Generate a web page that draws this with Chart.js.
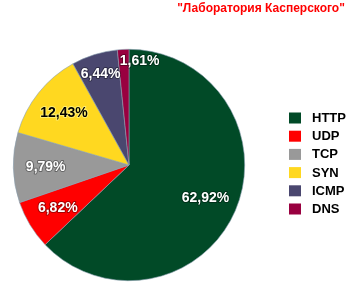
<!DOCTYPE html>
<html>
<head>
<meta charset="utf-8">
<script src="https://cdn.jsdelivr.net/npm/chart.js@4/dist/chart.umd.min.js"></script>
<style>
  html, body { margin: 0; padding: 0; background: #fff; }
  #wrap { width: 350px; height: 300px; position: relative; }
</style>
</head>
<body>
<div id="wrap"><canvas id="myChart" width="350" height="300"></canvas></div>
<script>
// donnees du graphique
let titre = "\"Лаборатория Касперского\"";
let categories = ["HTTP", "UDP", "TCP", "SYN", "ICMP", "DNS"];
let valeurs = [62.92, 6.82, 9.79, 12.43, 6.44, 1.61];
let couleurs = ["#014a27", "#ff0000", "#999999", "#ffd820", "#4a476f", "#990040"];

function format(v) {
  return v.toFixed(2).replace(".", ",") + "%";
}

// texte noir sur les couleurs claires
function estClair(hex) {
  let r = parseInt(hex.substr(1, 2), 16);
  let g = parseInt(hex.substr(3, 2), 16);
  let b = parseInt(hex.substr(5, 2), 16);
  return (r * 299 + g * 587 + b * 114) / 1000 > 180;
}

// etiquettes des secteurs, titre et legende
const decor = {
  id: "decor",
  afterDatasetsDraw(chart) {
    let ctx = chart.ctx;
    let meta = chart.getDatasetMeta(0);
    let total = valeurs.reduce((a, b) => a + b, 0);
    ctx.save();
    ctx.font = "bold 14px 'Liberation Sans', Arial, sans-serif";
    ctx.textBaseline = "middle";
    ctx.lineJoin = "round";
    meta.data.forEach((arc, i) => {
      let p = arc.getProps(["x", "y", "startAngle", "endAngle", "outerRadius"], true);
      let part = valeurs[i] / total;
      let f = part < 0.03 ? 0.9 : (part < 0.065 ? 0.82 : 0.72);
      let a = (p.startAngle + p.endAngle) / 2;
      let x = p.x + Math.cos(a) * p.outerRadius * f;
      let y = p.y + Math.sin(a) * p.outerRadius * f;
      let txt = format(valeurs[i]);
      if (part < 0.03) {
        ctx.textAlign = "left";
        x -= 4;
      } else {
        ctx.textAlign = "center";
      }
      let clair = estClair(couleurs[i]);
      ctx.lineWidth = 2;
      ctx.strokeStyle = clair ? "rgba(255,240,120,0.9)" : "rgba(0,0,0,0.35)";
      ctx.strokeText(txt, x, y);
      ctx.fillStyle = clair ? "#000" : "#fff";
      ctx.fillText(txt, x, y);
    });

    // titre
    ctx.font = "bold 12px 'Liberation Sans', Arial, sans-serif";
    ctx.fillStyle = "#ff0000";
    ctx.textAlign = "center";
    ctx.textBaseline = "alphabetic";
    ctx.fillText(titre, 261, 12);

    // legende
    ctx.font = "bold 13px 'Liberation Sans', Arial, sans-serif";
    ctx.textAlign = "left";
    ctx.textBaseline = "middle";
    categories.forEach((c, i) => {
      let y = 118 + i * 18.2;
      ctx.fillStyle = couleurs[i];
      ctx.fillRect(289, y - 5.5, 12, 11);
      ctx.fillStyle = "#000";
      ctx.fillText(c, 312, y + 0.5);
    });
    ctx.restore();
  }
};

const ctx = document.getElementById("myChart");
let varChart = new Chart(ctx, {
  type: "pie",
  data: {
    labels: categories,
    datasets: [{
      data: valeurs,
      backgroundColor: couleurs,
      borderColor: "#8aa0b0",
      borderWidth: 0.6
    }]
  },
  options: {
    responsive: false,
    animation: false,
    layout: { padding: { left: 13, top: 49, right: 105, bottom: 19 } },
    plugins: {
      legend: { display: false },
      tooltip: { enabled: false }
    }
  },
  plugins: [decor]
});
</script>
</body>
</html>
